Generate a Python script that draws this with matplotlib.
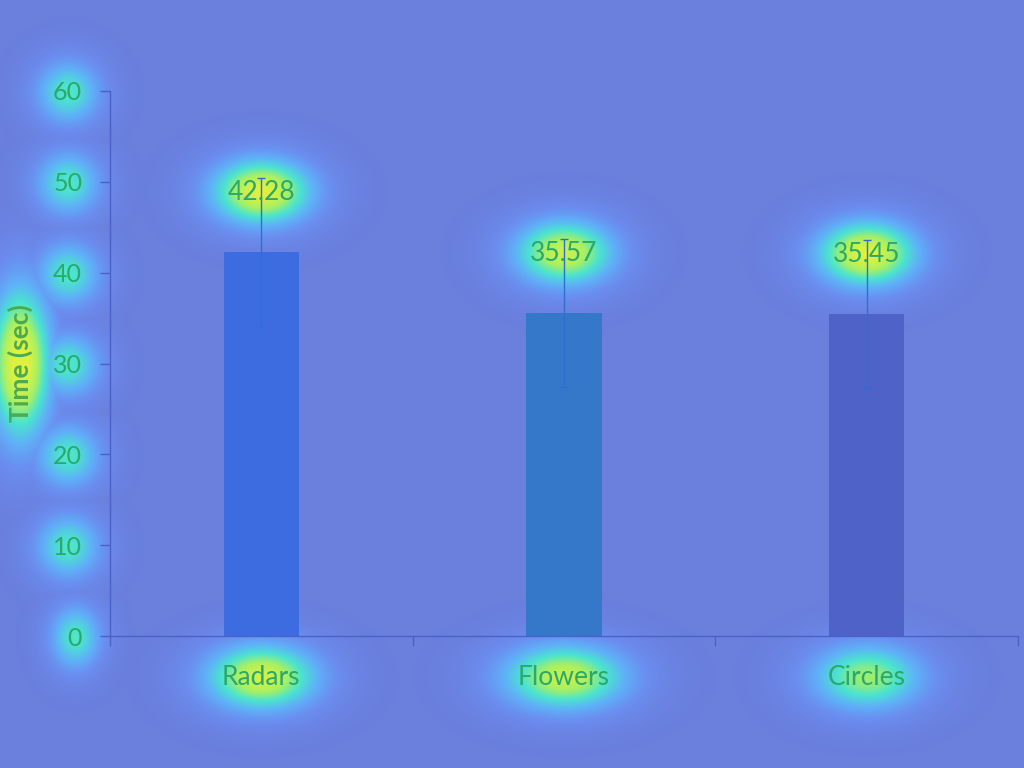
import numpy as np
import matplotlib
matplotlib.use("Agg")
import matplotlib.pyplot as plt
from matplotlib.colors import LinearSegmentedColormap

categories = ["Radars", "Flowers", "Circles"]
times = [42.28, 35.57, 35.45]
errors = [8.17, 8.12, 8.18]
value_labels = ["42.28", "35.57", "35.45"]
y_ticks = [0, 10, 20, 30, 40, 50, 60]

BG = "#6b7fdd"
TXT = "#2ba86a"
AX = "#4a62c8"
bar_colors = ["#3c6ce0", "#3577c8", "#4e62c8"]

plt.rcParams['font.family'] = ['Lato', 'DejaVu Sans']

W, H = 1024, 768
fig = plt.figure(figsize=(W / 100, H / 100), dpi=100, facecolor=BG)
ax = fig.add_axes([110 / W, (H - 636) / H, (1018 - 110) / W, (636 - 91) / H])
ax.set_facecolor("none")

x = np.arange(len(categories))
ax.bar(x, times, width=0.25, color=bar_colors, zorder=2)
ax.errorbar(x, times, yerr=errors, fmt="none", ecolor="#2f6fd0",
            elinewidth=1.0, capsize=3, capthick=1.0, zorder=3)

texts = []
for i, (v, lab) in enumerate(zip(times, value_labels)):
    t = ax.annotate(lab, xy=(i, v), xytext=(0, 43), textcoords="offset points",
                    ha="center", va="center", fontsize=19, color=TXT, zorder=4)
    texts.append(t)
strengths = [1.0, 0.92, 1.0]

ax.set_xlim(-0.5, 2.5)
ax.set_ylim(0, 60)
ax.set_yticks(y_ticks)
ax.set_yticklabels([str(v) for v in y_ticks])
ax.set_xticks(x)
ax.set_xticklabels(categories)
ax.set_xticks([-0.5, 0.5, 1.5, 2.5], minor=True)
ax.tick_params(axis="x", which="major", length=0, pad=21, labelsize=19, labelcolor=TXT)
ax.tick_params(axis="x", which="minor", length=7, color=AX, width=1)
ax.tick_params(axis="y", length=7, color=AX, width=1, pad=13, labelsize=18, labelcolor=TXT)
for s in ["top", "right"]:
    ax.spines[s].set_visible(False)
for s in ["left", "bottom"]:
    ax.spines[s].set_color(AX)
    ax.spines[s].set_linewidth(1.0)
ylab = ax.set_ylabel("Time (sec)", fontsize=19, fontweight="bold", color="#4caa50")
ylab.set_va("center")
ax.yaxis.set_label_coords((20 - 110) / (1018 - 110), 0.5)

fig.canvas.draw()
renderer = fig.canvas.get_renderer()

glow_items = []
for t, s in zip(texts, strengths):
    glow_items.append((t.get_window_extent(renderer), s))
for t in ax.get_yticklabels():
    glow_items.append((t.get_window_extent(renderer), 0.62))
for t, s in zip(ax.get_xticklabels(), [0.95, 0.9, 0.78]):
    glow_items.append((t.get_window_extent(renderer), s))
glow_items.append((ylab.get_window_extent(renderer), 1.05))

yy, xx = np.mgrid[0:H, 0:W]
yy = H - 1 - yy
I = np.zeros((H, W))
for bb, s in glow_items:
    cx, cy = (bb.x0 + bb.x1) / 2, (bb.y0 + bb.y1) / 2
    sx = bb.width / 2 * 0.7 + 14
    sy = bb.height / 2 * 0.7 + 16
    r2 = ((xx - cx) / sx) ** 2 + ((yy - cy) / sy) ** 2
    I = np.maximum(I, s * np.exp(-0.5 * r2))

cmap = LinearSegmentedColormap.from_list(
    "glow",
    [(0.0, BG), (0.18, "#6a8ef0"), (0.38, "#5fb0f8"), (0.6, "#4ae4d0"),
     (0.8, "#a8f062"), (1.0, "#e0f040")])
img = cmap(np.clip(I, 0, 1))[:, :, :3]
fig.figimage(img, xo=0, yo=0, origin="upper", zorder=-1)

fig.savefig("out.png", dpi=100, facecolor=BG)
